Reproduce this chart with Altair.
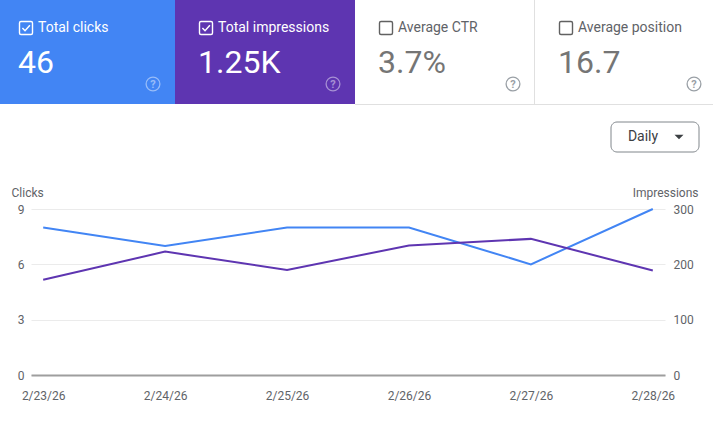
import altair as alt
import pandas as pd

# ---- data ----
dates = ["2/23/26", "2/24/26", "2/25/26", "2/26/26", "2/27/26", "2/28/26"]
clicks = [8, 7, 8, 8, 6, 9]
impressions = [172, 223, 190, 234, 246, 189]

card_labels = ["Total clicks", "Total impressions", "Average CTR", "Average position"]
card_values = ["46", "1.25K", "3.7%", "16.7"]
card_checked = [True, True, False, False]

button_label = "Daily"
left_title = "Clicks"
right_title = "Impressions"
clicks_ticks = [0, 3, 6, 9]
impr_ticks = [0, 100, 200, 300]

# ---- layout constants (pixels in page space) ----
OX, OY = 31, 209          # plot origin
PW, PH = 634, 166         # plot size
FONT = "Roboto"
BLUE = "#4285f4"
PURPLE = "#5e35b1"
GRAY_TXT = "#5f6368"


def px(x):
    return x - OX


def py(y):
    return y - OY


one = pd.DataFrame({"k": [0]})
layers = []

# card backgrounds
card_bg = [(0, 175, BLUE), (175, 355, PURPLE)]
for x0, x1, c in card_bg:
    layers.append(
        alt.Chart(one).mark_rect(color=c).encode(
            x=alt.value(px(x0)), x2=alt.value(px(x1)),
            y=alt.value(py(0)), y2=alt.value(py(104)))
    )
# bottom border and separator of white cards
layers.append(
    alt.Chart(one).mark_rule(color="#e0e0e0", strokeWidth=1).encode(
        x=alt.value(px(355)), x2=alt.value(px(713)), y=alt.value(py(104.5)))
)
layers.append(
    alt.Chart(one).mark_rule(color="#e0e0e0", strokeWidth=1).encode(
        x=alt.value(px(534.5)), y=alt.value(py(0)), y2=alt.value(py(104)))
)

card_x = [19, 199, 379, 559]
help_x = [153, 333, 513, 694]
check_path = "M-0.55,0.0 L-0.15,0.42 L0.6,-0.42"
for i in range(4):
    cx = card_x[i]
    colored = card_checked[i]
    fg = "white" if colored else "#616161"
    df = pd.DataFrame({"label": [card_labels[i]], "value": [card_values[i]]})
    # checkbox
    layers.append(
        alt.Chart(df).mark_rect(fill=None, fillOpacity=0, stroke=fg, strokeWidth=1.4,
                                cornerRadius=1.5).encode(
            x=alt.value(px(cx + 0.5)), x2=alt.value(px(cx + 13.5)),
            y=alt.value(py(21.5)), y2=alt.value(py(34.5)))
    )
    if colored:
        layers.append(
            alt.Chart(df).mark_point(shape=check_path, filled=False, stroke="white",
                                     strokeWidth=1.5, size=169, opacity=1).encode(
                x=alt.value(px(cx + 7)), y=alt.value(py(28)))
        )
    # label
    layers.append(
        alt.Chart(df).mark_text(align="left", baseline="middle", font=FONT, fontSize=14,
                                color="white" if colored else GRAY_TXT).encode(
            x=alt.value(px(cx + 19)), y=alt.value(py(27.5)), text="label:N")
    )
    # big value
    layers.append(
        alt.Chart(df).mark_text(align="left", baseline="alphabetic", font=FONT, fontSize=32,
                                color="white" if colored else "#757575").encode(
            x=alt.value(px(cx - 1)), y=alt.value(py(73)), text="value:N")
    )
    # help icon
    hc = "white" if colored else "#9aa0a6"
    ho = 0.45 if colored else 1
    layers.append(
        alt.Chart(df).mark_point(shape="circle", filled=False, stroke=hc, strokeWidth=1.3,
                                 size=190, opacity=ho).encode(
            x=alt.value(px(help_x[i])), y=alt.value(py(84)))
    )
    layers.append(
        alt.Chart(pd.DataFrame({"q": ["?"]})).mark_text(
            align="center", baseline="middle", font=FONT, fontSize=11, fontWeight="bold",
            color=hc, opacity=ho).encode(
            x=alt.value(px(help_x[i])), y=alt.value(py(84.5)), text="q:N")
    )

# Daily button
layers.append(
    alt.Chart(one).mark_rect(fill="white", stroke="#80868b", strokeWidth=1,
                             cornerRadius=6).encode(
        x=alt.value(px(611)), x2=alt.value(px(699)),
        y=alt.value(py(122)), y2=alt.value(py(152)))
)
layers.append(
    alt.Chart(pd.DataFrame({"b": [button_label]})).mark_text(
        align="center", baseline="middle", font=FONT, fontSize=14, fontWeight="normal",
        color="#3c4043").encode(
        x=alt.value(px(643)), y=alt.value(py(137)), text="b:N")
)
layers.append(
    alt.Chart(one).mark_point(shape="M-1,-0.5 L1,-0.5 L0,0.5 Z", filled=True,
                              color="#3c4043", size=81, opacity=1).encode(
        x=alt.value(px(679)), y=alt.value(py(137)))
)

# ---- line chart ----
ts = pd.DataFrame({"date": dates, "clicks": clicks, "impressions": impressions})

xenc = alt.X(
    "date:N", sort=dates,
    scale=alt.Scale(type="point", padding=0.1),
    axis=alt.Axis(title=None, labelAngle=0, domainColor="#9e9e9e", domainWidth=2,
                  ticks=False, tickSize=0, labelPadding=15, labelColor=GRAY_TXT,
                  labelFontSize=12, labelFont=FONT, grid=False),
)

clicks_line = alt.Chart(ts).mark_line(color=BLUE, strokeWidth=2).encode(
    x=xenc,
    y=alt.Y("clicks:Q", scale=alt.Scale(domain=[0, 9], nice=False),
            axis=alt.Axis(values=clicks_ticks, orient="left", title=left_title,
                          titleAngle=0, titleX=-20, titleY=-17, titleAlign="left",
                          titleBaseline="middle", titleFontWeight="normal",
                          titleFontSize=12, titleColor=GRAY_TXT, titleFont=FONT,
                          grid=True, gridColor="#ebebeb", gridWidth=1,
                          domain=False, ticks=False, tickSize=0, labelPadding=7,
                          labelColor=GRAY_TXT, labelFontSize=12, labelFont=FONT)),
)
impr_line = alt.Chart(ts).mark_line(color=PURPLE, strokeWidth=2).encode(
    x=xenc,
    y=alt.Y("impressions:Q", scale=alt.Scale(domain=[0, 300], nice=False),
            axis=alt.Axis(values=impr_ticks, orient="right", title=right_title,
                          titleAngle=0, titleX=33, titleY=-17, titleAlign="right",
                          titleBaseline="middle", titleFontWeight="normal",
                          titleFontSize=12, titleColor=GRAY_TXT, titleFont=FONT,
                          grid=False, domain=False, ticks=False, tickSize=0,
                          labelPadding=8, labelColor=GRAY_TXT, labelFontSize=12,
                          labelFont=FONT)),
)

chart = alt.layer(clicks_line, impr_line, *layers).resolve_scale(
    y="independent"
).properties(
    width=PW, height=PH,
    padding={"left": OX, "top": OY, "right": 713 - OX - PW, "bottom": 425 - OY - PH},
    autosize="none",
    background="white",
).configure(font=FONT).configure_view(stroke=None)

chart.save("out.html", embed_options={"renderer": "svg", "actions": False})
